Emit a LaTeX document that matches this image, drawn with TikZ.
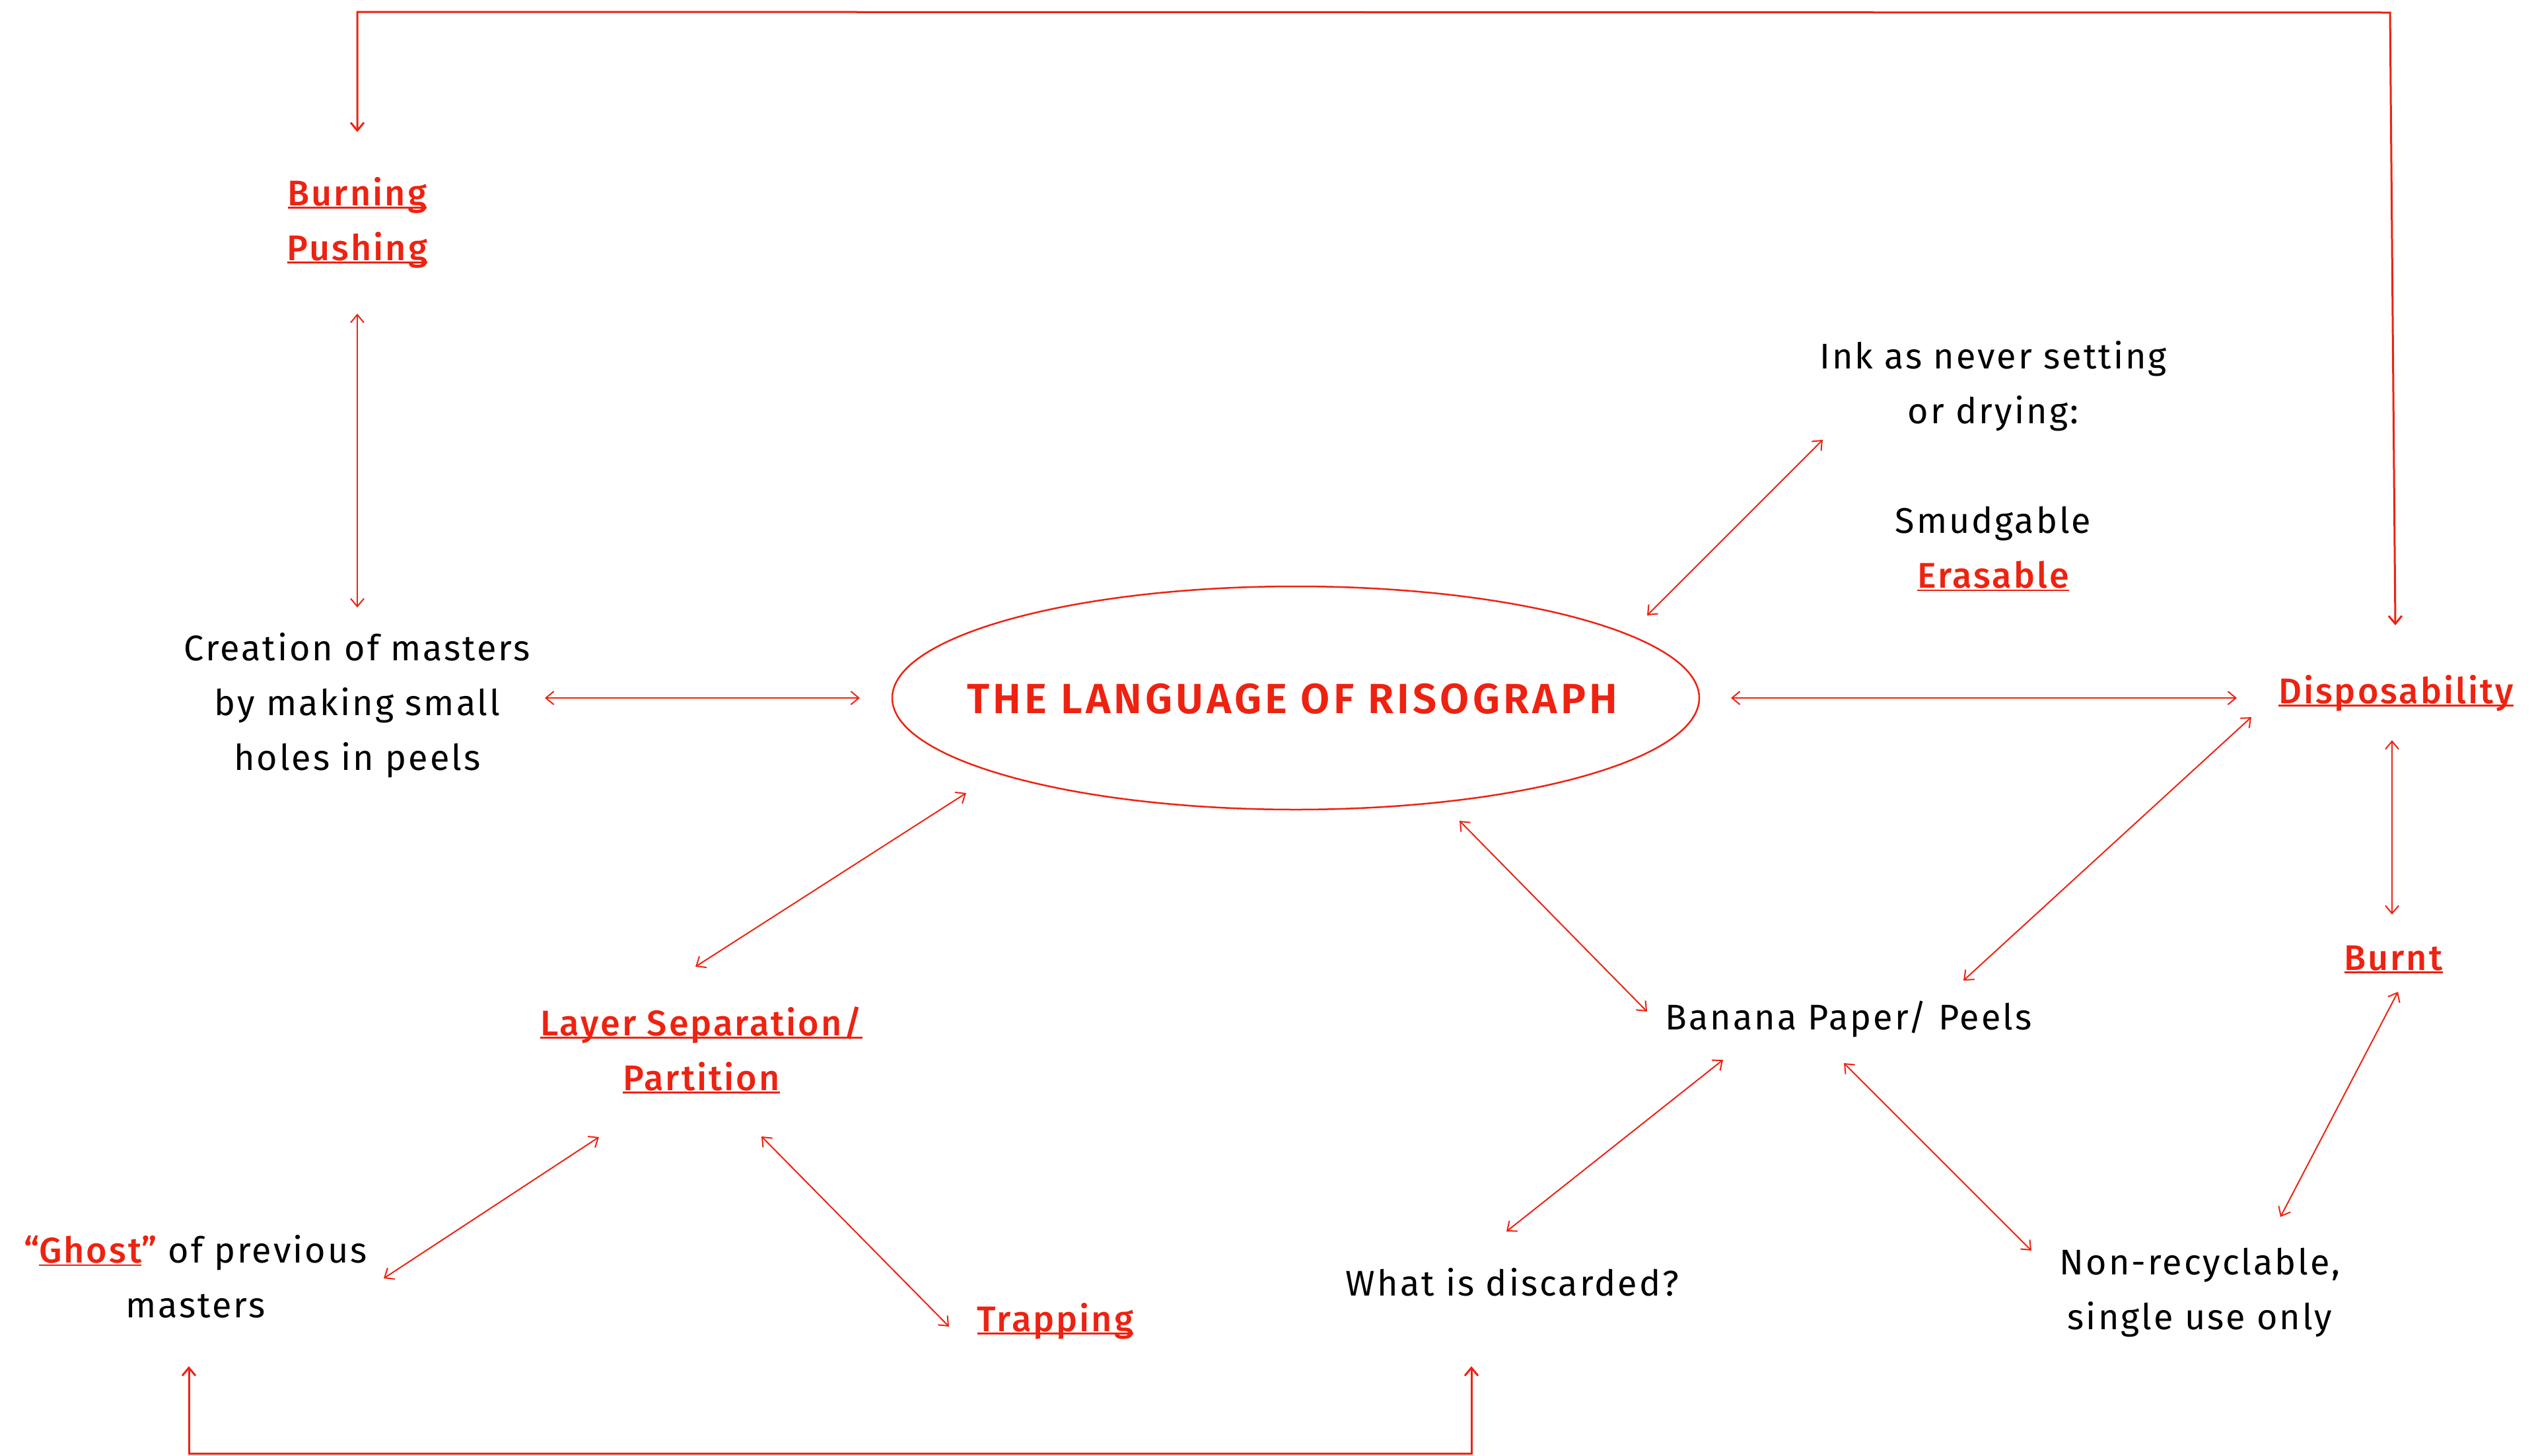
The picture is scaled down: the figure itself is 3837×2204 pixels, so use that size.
\documentclass[tikz,border=0pt]{standalone}
\usepackage{fontspec}
\setmainfont{Fira Sans}[LetterSpace=5.5,BoldFont={Fira Sans Medium}]
\newfontfamily\titlef{Fira Sans}[LetterSpace=8,BoldFont={Fira Sans SemiBold}]
\usetikzlibrary{arrows.meta,shapes.geometric}
\definecolor{rr}{RGB}{238,34,17}
\newcommand{\rl}[1]{{\color{rr}\bfseries\setbox0\hbox{#1}\rlap{\rule[-4.5pt]{\wd0}{2.2pt}}\box0}}
\begin{document}
\begin{tikzpicture}[x=1pt,y=-1pt,
  lbl/.style={font=\fontsize{54}{83}\selectfont, align=center, inner sep=0pt, text=black},
  ttl/.style={font=\titlef\bfseries\fontsize{64}{76}\selectfont, text=rr, inner sep=0pt},
  ell/.style={draw=rr, line width=2.5pt, ellipse, minimum width=1222pt, minimum height=338pt, inner sep=0pt},
  con/.style={draw=rr, line width=2pt, {Straight Barb[length=12pt,width=20pt]}-{Straight Barb[length=12pt,width=20pt]}},
  frm/.style={con, line width=3pt}]
\useasboundingbox[fill=white] (0,0) rectangle (3837,2204);

% nodes
\node[lbl] (bp) at (541,337) {\rl{Burning}\\\rl{Pushing}};
\node[lbl] (cm) at (541,1068) {Creation of masters\\by making small\\holes in peels};
\node[ell] (lang) at (1962,1057) {};
\node[ttl] (title) at (1957,1058) {THE LANGUAGE OF RISOGRAPH};
\node[lbl] (ink) at (3018,706) {Ink as never setting\\or drying:\\[83pt]Smudgable\\\rl{Erasable}};
\node[lbl, anchor=base] (disp) at (3628,1065) {\rl{Disposability}};
\node[lbl, anchor=base] (burnt) at (3624,1469) {\rl{Burnt}};
\node[lbl, anchor=base] (ban) at (2799,1559) {Banana Paper/ Peels};
\node[lbl] (lay) at (1062,1590) {\rl{Layer Separation/}\\\rl{Partition}};
\node[lbl] (gh) at (296,1933) {{\color{rr}\bfseries “}\rl{Ghost}{\color{rr}\bfseries ”} of previous\\masters};
\node[lbl, anchor=base] (trap) at (1598,2016) {\rl{Trapping}};
\node[lbl, anchor=base] (what) at (2290,1962) {What is discarded?};
\node[lbl] (nr) at (3331,1957) {Non-recyclable,\\single use only};

% connector ends
\coordinate (bp-s) at (541,475);   \coordinate (cm-n) at (541,920);
\coordinate (cm-e) at (825,1057);  \coordinate (lang-w) at (1302,1057);
\coordinate (lang-e) at (2621,1057); \coordinate (disp-w) at (3387,1057);
\coordinate (lang-ne) at (2494,932); \coordinate (ink-sw) at (2760,666);
\coordinate (lang-sw) at (1463,1201); \coordinate (lay-n) at (1053,1464);
\coordinate (lay-sw) at (907,1722); \coordinate (gh-ne) at (581,1936);
\coordinate (lay-se) at (1153,1721); \coordinate (trap-nw) at (1437,2009);
\coordinate (lang-se) at (2210,1243); \coordinate (ban-nw) at (2494,1532);
\coordinate (ban-ne) at (2973,1485); \coordinate (disp-sw) at (3409,1086);
\coordinate (disp-s) at (3622,1121); \coordinate (burnt-n) at (3622,1385);
\coordinate (burnt-s) at (3631,1502); \coordinate (nr-n) at (3453,1843);
\coordinate (ban-se) at (2792,1610); \coordinate (nr-nw) at (3076,1894);
\coordinate (ban-sw) at (2609,1605); \coordinate (what-ne) at (2281,1865);
\coordinate (disp-n) at (3627,947); \coordinate (tr) at (3619,19);
\coordinate (tl) at (541,18); \coordinate (bp-n) at (541,200);
\coordinate (gh-s) at (286,2069); \coordinate (bl) at (286,2201);
\coordinate (br) at (2228,2201); \coordinate (what-s) at (2228,2069);

% connectors
\draw[con] (bp-s) -- (cm-n);
\draw[con] (cm-e) -- (lang-w);
\draw[con] (lang-e) -- (disp-w);
\draw[con] (lang-ne) -- (ink-sw);
\draw[con] (lang-sw) -- (lay-n);
\draw[con] (lay-sw) -- (gh-ne);
\draw[con] (lay-se) -- (trap-nw);
\draw[con] (lang-se) -- (ban-nw);
\draw[con] (ban-ne) -- (disp-sw);
\draw[con] (disp-s) -- (burnt-n);
\draw[con] (burnt-s) -- (nr-n);
\draw[con] (ban-se) -- (nr-nw);
\draw[con] (ban-sw) -- (what-ne);
\draw[frm] (disp-n) -- (tr) -- (tl) -- (bp-n);
\draw[frm] (gh-s) -- (bl) -- (br) -- (what-s);
\end{tikzpicture}
\end{document}
